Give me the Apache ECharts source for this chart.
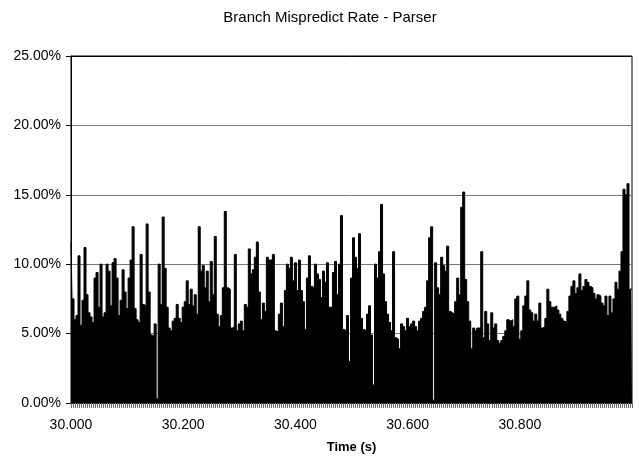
<!DOCTYPE html>
<html>
<head>
<meta charset="utf-8">
<title>Branch Mispredict Rate - Parser</title>
<script src="https://cdn.jsdelivr.net/npm/echarts@6/dist/echarts.min.js"></script>
<style>
  html, body { margin: 0; padding: 0; background: #ffffff; }
  #chart { width: 639px; height: 459px; }
</style>
</head>
<body>
<div id="chart"></div>
<script>
// Sampling grid of the trace: one sample every 1/280 s starting at 30.000 s
const startTime = 30.0;
const sampleCount = 281;
const sampleStep = 1 / 280;

// Time labels printed under the axis
const xTickLabels = ['30.000', '30.200', '30.400', '30.600', '30.800'];

// Y axis range (percent)
const yMin = 0;
const yMax = 25;
const yStep = 5;

// Branch mispredict rate per sample, in percent
const mispredictRate = [
  11.6, 7.5, 6.0, 6.3, 10.6, 5.6, 7.4, 11.2, 7.8, 6.5,
  6.2, 5.8, 9.0, 9.4, 6.9, 10.0, 6.2, 6.5, 10.0, 9.5,
  7.0, 10.1, 10.4, 9.0, 6.3, 7.4, 9.6, 8.0, 6.8, 9.0,
  10.3, 12.7, 6.8, 6.0, 5.8, 10.7, 7.1, 7.0, 12.9, 8.0,
  4.9, 4.8, 5.7, 0.3, 10.0, 7.1, 13.4, 9.7, 6.9, 5.4,
  5.2, 5.9, 6.1, 7.1, 6.1, 5.8, 6.9, 7.3, 8.8, 7.1,
  8.2, 7.0, 7.8, 6.4, 12.7, 9.5, 9.9, 8.3, 9.5, 7.3,
  10.2, 7.8, 12.0, 6.4, 5.5, 6.3, 8.3, 13.8, 8.3, 8.2,
  5.4, 5.5, 10.7, 5.2, 5.7, 5.9, 5.2, 7.1, 6.9, 11.1,
  9.3, 9.6, 10.5, 11.6, 8.0, 6.0, 7.2, 6.6, 10.5, 10.3,
  10.3, 10.7, 5.2, 5.1, 6.4, 7.2, 5.5, 8.1, 10.0, 9.7,
  10.5, 8.8, 10.1, 8.1, 10.3, 8.1, 7.3, 5.3, 9.0, 10.6,
  8.4, 8.3, 10.0, 9.3, 8.9, 7.6, 9.5, 8.7, 10.1, 6.9,
  6.9, 9.4, 10.2, 7.8, 10.0, 13.5, 5.3, 5.2, 6.3, 3.0,
  9.0, 11.9, 10.5, 9.7, 12.2, 6.1, 5.3, 5.2, 6.4, 7.0,
  4.9, 1.3, 10.0, 9.0, 10.9, 14.3, 9.3, 7.3, 6.4, 5.8,
  5.2, 10.9, 4.7, 4.6, 3.9, 5.7, 5.5, 5.2, 6.1, 5.5,
  5.7, 5.9, 5.5, 5.2, 5.9, 6.1, 6.6, 6.9, 8.8, 11.9,
  12.7, 0.2, 10.1, 8.3, 7.8, 10.5, 9.9, 9.5, 11.3, 6.6,
  6.5, 6.4, 7.3, 9.0, 7.8, 14.1, 15.2, 8.9, 7.3, 5.9,
  3.9, 5.4, 5.2, 5.4, 5.4, 10.9, 4.7, 6.6, 5.7, 4.5,
  6.5, 5.4, 5.7, 4.5, 4.3, 4.5, 4.8, 5.2, 6.0, 5.9,
  6.0, 5.5, 7.5, 7.7, 4.6, 5.2, 7.0, 7.7, 8.8, 6.7,
  6.5, 5.9, 6.4, 5.9, 7.2, 5.4, 5.5, 6.1, 8.2, 7.3,
  6.9, 6.9, 7.0, 6.7, 6.4, 6.1, 5.9, 5.8, 6.6, 7.7,
  8.4, 8.8, 7.9, 8.3, 9.3, 8.1, 8.4, 8.9, 8.7, 8.4,
  8.3, 7.9, 7.5, 7.8, 7.7, 7.2, 7.0, 7.7, 6.3, 7.7,
  6.5, 7.5, 8.7, 8.2, 9.5, 10.9, 15.4, 15.0, 15.8, 8.2,
  8.2
];

// Category labels: sample times in seconds, three decimals
const sampleTimes = [];
for (let i = 0; i < sampleCount; i++) {
  sampleTimes.push((startTime + i * sampleStep).toFixed(3));
}

const labelFont = 'Arial, "Liberation Sans", Helvetica, sans-serif';

const chart = echarts.init(document.getElementById('chart'), null, { renderer: 'canvas' });

chart.setOption({
  animation: false,
  backgroundColor: '#ffffff',
  title: {
    text: 'Branch Mispredict Rate - Parser',
    left: 325,
    top: 5,
    textAlign: 'center',
    textStyle: {
      fontFamily: labelFont,
      fontSize: 15,
      fontWeight: 'normal',
      color: '#000000'
    }
  },
  grid: {
    left: 71,
    right: 7,
    top: 56,
    bottom: 56,
    show: true,
    borderColor: '#000000',
    borderWidth: 1,
    backgroundColor: 'transparent'
  },
  xAxis: {
    type: 'category',
    data: sampleTimes,
    boundaryGap: false,
    name: 'Time (s)',
    nameLocation: 'middle',
    nameGap: 38,
    nameTextStyle: {
      fontFamily: labelFont,
      fontSize: 13,
      fontWeight: 'bold',
      color: '#000000'
    },
    axisLine: { show: true, lineStyle: { color: '#000000', width: 1 } },
    axisTick: {
      show: true,
      interval: 0,
      length: 5,
      lineStyle: { color: '#666666', width: 1 }
    },
    axisLabel: {
      interval: function (index, value) {
        return xTickLabels.indexOf(value) !== -1;
      },
      margin: 15,
      fontFamily: labelFont,
      fontSize: 14,
      color: '#000000'
    },
    splitLine: { show: false }
  },
  yAxis: {
    type: 'value',
    min: yMin,
    max: yMax,
    interval: yStep,
    axisLine: { show: true, lineStyle: { color: '#000000', width: 1 } },
    axisTick: { show: true, length: 5, lineStyle: { color: '#000000' } },
    axisLabel: {
      margin: 10,
      fontFamily: labelFont,
      fontSize: 14,
      color: '#000000',
      formatter: function (v) { return v.toFixed(2) + '%'; }
    },
    splitLine: {
      show: true,
      lineStyle: { color: ['#777777', '#777777', '#777777', '#777777', '#777777', '#000000'], width: 1 }
    }
  },
  series: [{
    name: 'Branch Mispredict Rate',
    type: 'line',
    data: mispredictRate,
    step: 'middle',
    symbol: 'none',
    showSymbol: false,
    smooth: false,
    sampling: null,
    lineStyle: { color: '#000000', width: 1 },
    areaStyle: { color: '#000000', opacity: 1 },
    itemStyle: { color: '#000000' }
  }]
});
</script>
</body>
</html>
